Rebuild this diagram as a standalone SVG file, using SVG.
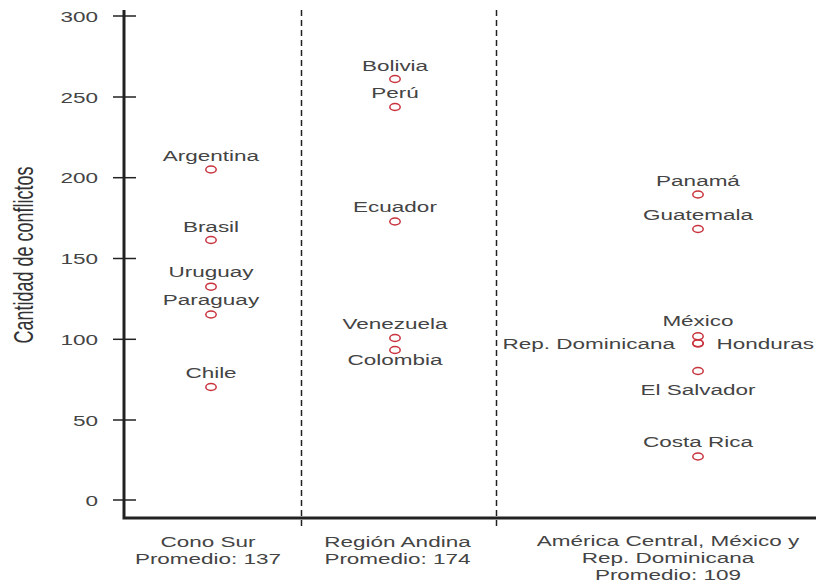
<svg xmlns="http://www.w3.org/2000/svg" width="816" height="586" viewBox="0 0 816 586">
<style>
text{font-family:"Liberation Sans",Arial,sans-serif;font-size:15px;fill:#444}
.m{text-anchor:middle}
.e{text-anchor:end}
.s{text-anchor:start}
.pt{fill:none;stroke:#c8323c;stroke-width:1.5}
.ax{stroke:#222;stroke-width:3;fill:none}
.tk{stroke:#222;stroke-width:1.5}
.dash{stroke:#222;stroke-width:1.5;stroke-dasharray:6,4}
</style>
<defs>
<ellipse id="pt" class="pt" cx="0" cy="0" rx="5.2" ry="3.5"/>
</defs>
<rect width="816" height="586" fill="#fff"/>
<g id="axes">
<line class="dash" x1="301.5" y1="10" x2="301.5" y2="528"/>
<line class="dash" x1="496.5" y1="10" x2="496.5" y2="528"/>
<path class="ax" d="M124,10 V518 H816"/>
<line class="tk" x1="113" y1="16" x2="136" y2="16"/>
<line class="tk" x1="113" y1="97" x2="136" y2="97"/>
<line class="tk" x1="113" y1="177.7" x2="136" y2="177.7"/>
<line class="tk" x1="113" y1="258.5" x2="136" y2="258.5"/>
<line class="tk" x1="113" y1="339.3" x2="136" y2="339.3"/>
<line class="tk" x1="113" y1="420" x2="136" y2="420"/>
<line class="tk" x1="113" y1="500" x2="136" y2="500"/>
<text class="e" transform="translate(98,21.5) scale(1.5,1)">300</text>
<text class="e" transform="translate(98,102.5) scale(1.5,1)">250</text>
<text class="e" transform="translate(98,183.2) scale(1.5,1)">200</text>
<text class="e" transform="translate(98,264) scale(1.5,1)">150</text>
<text class="e" transform="translate(98,344.8) scale(1.5,1)">100</text>
<text class="e" transform="translate(98,425.5) scale(1.5,1)">50</text>
<text class="e" transform="translate(98,505.5) scale(1.5,1)">0</text>
<text class="m" style="font-size:18px;fill:#333" transform="translate(33,255) scale(1.5,1) rotate(-90)">Cantidad de conflictos</text>
<text class="m" transform="translate(208,546.5) scale(1.5,1)">Cono Sur</text>
<text class="m" transform="translate(208,563.5) scale(1.5,1)">Promedio: 137</text>
<text class="m" transform="translate(397.5,546.5) scale(1.5,1)">Región Andina</text>
<text class="m" transform="translate(397.5,563.5) scale(1.5,1)">Promedio: 174</text>
<text class="m" transform="translate(668,545.5) scale(1.5,1)">América Central, México y</text>
<text class="m" transform="translate(668,562.5) scale(1.5,1)">Rep. Dominicana</text>
<text class="m" transform="translate(668,579.5) scale(1.5,1)">Promedio: 109</text>
</g>
<g id="argentina"><use href="#pt" x="211" y="169.5"/><text class="m" transform="translate(211,160.7) scale(1.5,1)">Argentina</text></g>
<g id="brasil"><use href="#pt" x="211" y="240"/><text class="m" transform="translate(211,231.5) scale(1.5,1)">Brasil</text></g>
<g id="uruguay"><use href="#pt" x="211" y="286.7"/><text class="m" transform="translate(211,277.3) scale(1.5,1)">Uruguay</text></g>
<g id="paraguay"><use href="#pt" x="211" y="314.5"/><text class="m" transform="translate(211,305) scale(1.5,1)">Paraguay</text></g>
<g id="chile"><use href="#pt" x="211" y="387"/><text class="m" transform="translate(211,378.3) scale(1.5,1)">Chile</text></g>
<g id="bolivia"><use href="#pt" x="395" y="79"/><text class="m" transform="translate(395,70.5) scale(1.5,1)">Bolivia</text></g>
<g id="peru"><use href="#pt" x="395" y="107"/><text class="m" transform="translate(395,97.5) scale(1.5,1)">Perú</text></g>
<g id="ecuador"><use href="#pt" x="395" y="221.5"/><text class="m" transform="translate(395,212) scale(1.5,1)">Ecuador</text></g>
<g id="venezuela"><use href="#pt" x="395" y="338"/><text class="m" transform="translate(395,328.5) scale(1.5,1)">Venezuela</text></g>
<g id="colombia"><use href="#pt" x="395" y="350"/><text class="m" transform="translate(395,365) scale(1.5,1)">Colombia</text></g>
<g id="panama"><use href="#pt" x="698" y="194.5"/><text class="m" transform="translate(698,186) scale(1.5,1)">Panamá</text></g>
<g id="guatemala"><use href="#pt" x="698" y="229"/><text class="m" transform="translate(698,219.5) scale(1.5,1)">Guatemala</text></g>
<g id="mexico"><use href="#pt" x="698" y="336.3"/><text class="m" transform="translate(698,325.5) scale(1.5,1)">México</text></g>
<g id="honduras"><use href="#pt" x="698" y="343.3"/><text class="s" transform="translate(716.5,348.5) scale(1.5,1)">Honduras</text></g>
<g id="repdominicana"><use href="#pt" x="698" y="343.3"/><text class="e" transform="translate(675,348.5) scale(1.5,1)">Rep. Dominicana</text></g>
<g id="elsalvador"><use href="#pt" x="698" y="371"/><text class="m" transform="translate(698,394.5) scale(1.5,1)">El Salvador</text></g>
<g id="costarica"><use href="#pt" x="698" y="456.5"/><text class="m" transform="translate(698,446.7) scale(1.5,1)">Costa Rica</text></g>
<g id="connectors"></g>
</svg>
